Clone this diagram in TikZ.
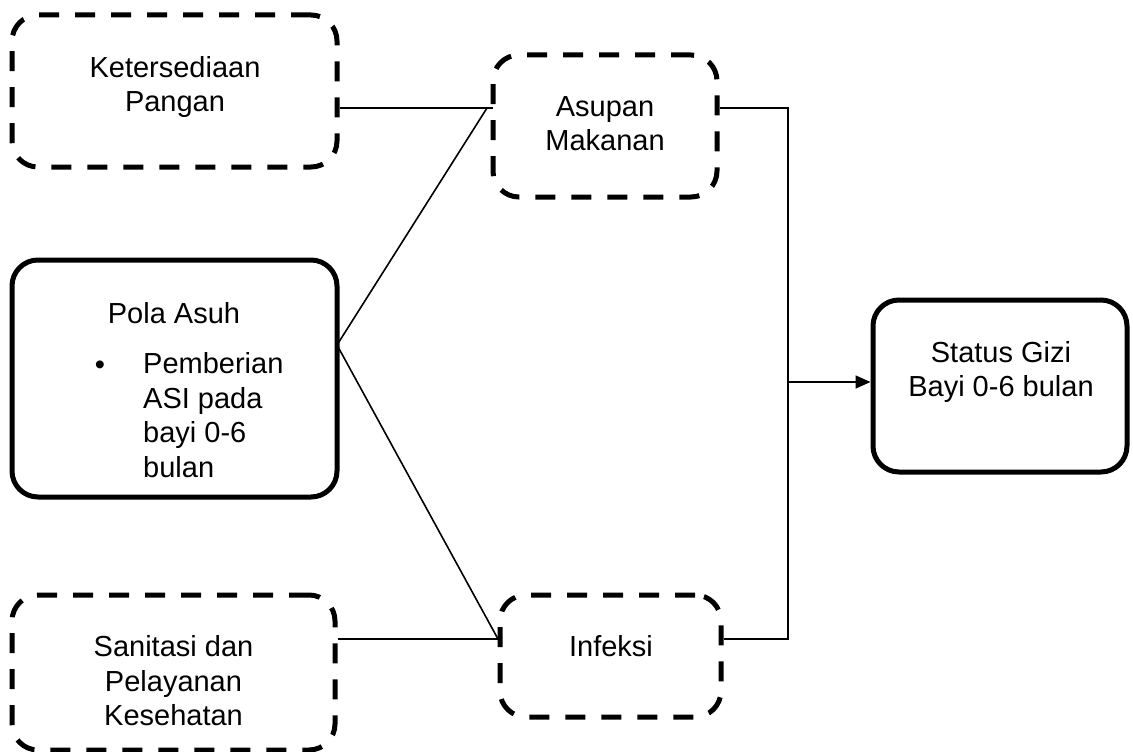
\documentclass[tikz,border=0pt]{standalone}
\usepackage{fontspec}
\setmainfont{Liberation Sans}
\usetikzlibrary{arrows.meta}
\begin{document}
\begin{tikzpicture}
	[
	x=1pt, y=-1pt,
	dbox/.style={draw = black, shape = rectangle, line width = 5pt, rounded corners = 26pt, dash pattern = on 20pt off 16pt, inner sep = 0pt},
	sbox/.style={draw = black, shape = rectangle, line width = 5pt, rounded corners = 26pt, inner sep = 0pt},
	txt/.style={inner sep = 0pt, align = center, font = \fontsize{29}{34.5}\selectfont},
	link/.style={draw = black, line width = 1.6pt}
	]
	\useasboundingbox (0,0) rectangle (1133,752);
	
	\node[dbox, minimum width = 325pt, minimum height = 152pt](ket) at (174.5, 91){};
	\node[dbox, minimum width = 224pt, minimum height = 142pt](asu) at (605, 126){};
	\node[sbox, minimum width = 325pt, minimum height = 237pt](pola) at (174.5, 378.5){};
	\node[sbox, minimum width = 254pt, minimum height = 172pt](stat) at (1000, 386){};
	\node[dbox, minimum width = 323pt, minimum height = 155pt](san) at (173.5, 672.5){};
	\node[dbox, minimum width = 221pt, minimum height = 122pt](inf) at (610.5, 656){};
	
	\node[txt](ket-t) at (175, 86.8){Ketersediaan\\Pangan};
	\node[txt](asu-t) at (605, 123.8){Asupan\\Makanan};
	\node[txt, anchor=base](pola-t) at (174, 323){Pola Asuh};
	\node[txt, anchor=base](dot) at (100, 374){\textbullet};
	\node[txt, anchor=west, align=left](pola-l) at (143, 415.3){Pemberian\\ASI pada\\bayi 0-6\\bulan};
	\node[txt](stat-t) at (1001, 371.8){Status Gizi\\Bayi 0-6 bulan};
	\node[txt](san-t) at (173.5, 681){Sanitasi dan\\Pelayanan\\Kesehatan};
	\node[txt, anchor=base](inf-t) at (611, 656){Infeksi};
	
	\coordinate (ja) at (493, 108);
	\coordinate (jp) at (337, 345);
	\coordinate (ji) at (498, 639);
	\coordinate (bus) at (788, 108);
	\coordinate (bus2) at (788, 382);
	
	\draw[link](ket.east |- ja) -- (ja);
	\draw[link]([xshift=-6pt]ja) -- (jp);
	\draw[link](jp) -- (ji);
	\draw[link](san.east |- ji) -- (ji);
	\draw[link](asu.east |- bus) -- (bus) -- (bus |- ji) -- (inf.east |- ji);
	\draw[link, -{Triangle[length=15pt, width=13pt]}](bus2) -- (stat.west |- bus2);
\end{tikzpicture}
\end{document}
